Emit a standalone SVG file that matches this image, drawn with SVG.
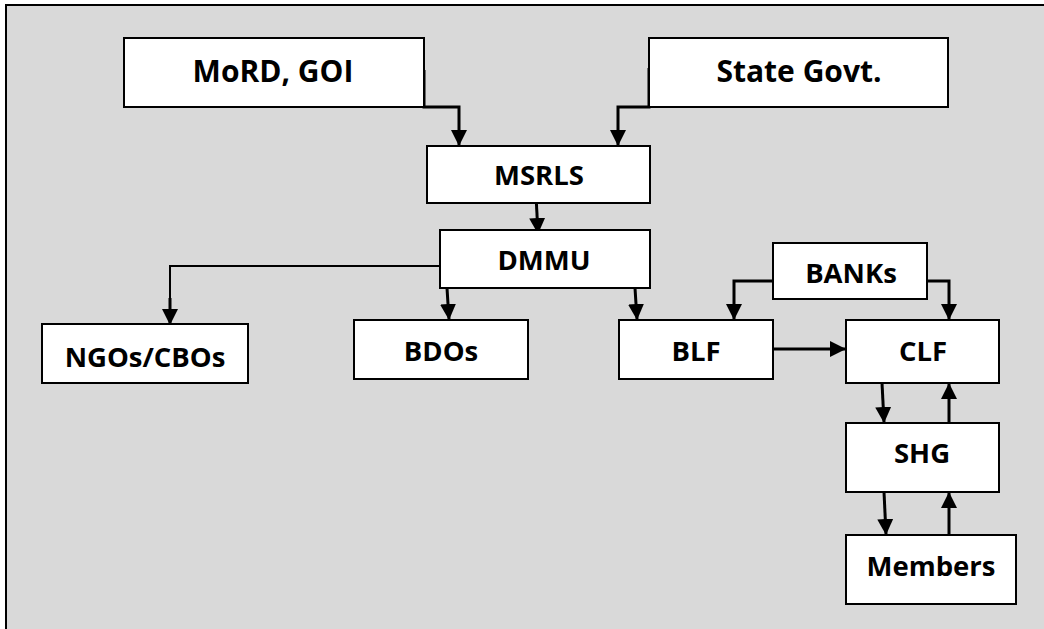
<svg xmlns="http://www.w3.org/2000/svg" width="1044" height="629" viewBox="0 0 1044 629">
<style>
.box{fill:#fff;stroke:#000;stroke-width:2}
.t{font-family:"Open Sans","Liberation Sans",sans-serif;font-weight:bold;font-size:27.5px;fill:#000;text-anchor:middle}
.big{font-size:30px}
.c{fill:none;stroke:#000;stroke-width:3}
.thin{stroke-width:2}
</style>
<defs>
<marker id="ah" markerUnits="userSpaceOnUse" markerWidth="16" markerHeight="16" viewBox="0 0 16 16" refX="15" refY="8" orient="auto">
<polygon points="0,0 16,8 0,16" fill="#000"/>
</marker>
</defs>
<rect x="0" y="0" width="1044" height="629" fill="#fff"/>
<rect x="6" y="5" width="1040" height="630" fill="#d9d9d9" stroke="#000" stroke-width="2"/>
<g id="connectors">
<path class="c" d="M424,70 V107 H459 V145" marker-end="url(#ah)"/>
<path class="c" d="M649,68 V107 H618 V145" marker-end="url(#ah)"/>
<path class="c" d="M536,196 L538,233" marker-end="url(#ah)"/>
<path class="c thin" d="M447,266 H170 V300"/>
<path class="c" d="M170,298 V324" marker-end="url(#ah)"/>
<path class="c" d="M447,288 L449,319" marker-end="url(#ah)"/>
<path class="c" d="M635,288 L637,319" marker-end="url(#ah)"/>
<path class="c" d="M773,281 H734 V319" marker-end="url(#ah)"/>
<path class="c" d="M927,281 H949 V319" marker-end="url(#ah)"/>
<path class="c" d="M772,349 H845" marker-end="url(#ah)"/>
<path class="c" d="M882,383 L884,422" marker-end="url(#ah)"/>
<path class="c" d="M949,423 V384" marker-end="url(#ah)"/>
<path class="c" d="M884,492 L886,534" marker-end="url(#ah)"/>
<path class="c" d="M949,535 V493" marker-end="url(#ah)"/>
</g>
<g id="mord"><rect class="box" x="124" y="38" width="300" height="69"/><text class="t big" x="273" y="82">MoRD, GOI</text></g>
<g id="state"><rect class="box" x="649" y="38" width="299" height="69"/><text class="t big" x="799" y="82">State Govt.</text></g>
<g id="msrls"><rect class="box" x="427" y="146" width="223" height="57"/><text class="t" x="539" y="185">MSRLS</text></g>
<g id="dmmu"><rect class="box" x="440" y="230" width="210" height="58"/><text class="t" x="544" y="270">DMMU</text></g>
<g id="ngos"><rect class="box" x="42" y="324" width="206" height="59"/><text class="t" x="145" y="367">NGOs/CBOs</text></g>
<g id="bdos"><rect class="box" x="354" y="320" width="174" height="59"/><text class="t" x="441" y="361">BDOs</text></g>
<g id="blf"><rect class="box" x="619" y="320" width="154" height="59"/><text class="t" x="696" y="361">BLF</text></g>
<g id="banks"><rect class="box" x="773" y="243" width="154" height="56"/><text class="t" x="851" y="283">BANKs</text></g>
<g id="clf"><rect class="box" x="846" y="320" width="153" height="63"/><text class="t" x="923" y="361">CLF</text></g>
<g id="shg"><rect class="box" x="846" y="423" width="153" height="69"/><text class="t" x="922" y="463">SHG</text></g>
<g id="members"><rect class="box" x="846" y="535" width="170" height="69"/><text class="t" x="931" y="576">Members</text></g>
</svg>
